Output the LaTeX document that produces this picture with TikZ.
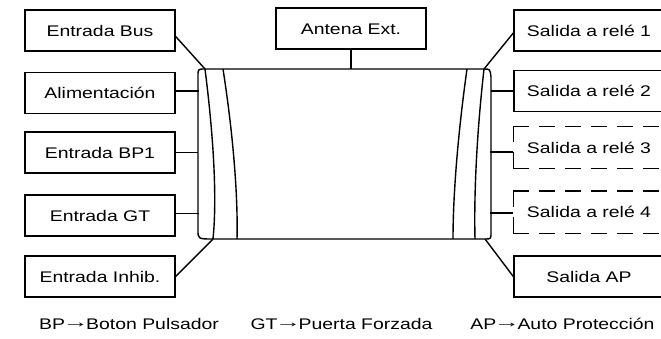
\documentclass[tikz,border=0pt]{standalone}
\usepackage{fontspec}
\setmainfont[FakeStretch=1.26]{Liberation Sans}
\newfontfamily\arrowfont[FakeStretch=1.7]{Liberation Sans}
\newcommand{\toarrow}{{\kern-2.5pt\arrowfont\raisebox{1.5pt}{→}\kern-2.5pt}}
\usepackage{tikz}
\usetikzlibrary{positioning, calc}

\begin{document}
\begin{tikzpicture}[
    x=1pt, y=-1pt,
    line width=1.4pt,
    label box/.style={draw, line width=1.4pt, minimum width=150, minimum height=41,
        font=\fontsize{15.4}{18}\selectfont, text height=11, text depth=0, inner sep=0},
    opt box/.style={label box, draw=none},
    dashline/.style={line width=1.4pt, dash pattern=on 16pt off 10pt},
    wire/.style={line width=1.4pt},
    note/.style={font=\fontsize{15.4}{18}\selectfont, anchor=base}
]
\clip (0,0) rectangle (661,338);

% Input boxes
\node[label box] (bus) at (100,30.5) {Entrada Bus};
\node[label box] (alim) at (100,93) {Alimentación};
\node[label box] (bpone) at (100,152.5) {Entrada BP1};
\node[label box] (gt) at (100,215.5) {Entrada GT};
\node[label box] (inhib) at (100,276.5) {Entrada Inhib.};

% Antenna
\node[label box] (antena) at (351,28.5) {Antena Ext.};

% Output boxes
\node[label box] (relA) at (589,30.5) {Salida a relé 1};
\node[label box] (relB) at (589,91) {Salida a relé 2};
\node[opt box] (relC) at (589,147.5) {Salida a relé 3};
\node[opt box] (relD) at (589,212) {Salida a relé 4};
\node[label box] (ap) at (589,276.5) {Salida AP};

% Optional outputs: dashed outline
\foreach \n in {relC,relD} {
    \draw[dashline] (\n.north west) -- (\n.north east);
    \draw[dashline] (\n.south west) -- (\n.south east);
    \draw[dashline] (\n.north west) -- (\n.south west);
}

% Body corners
\coordinate (tl) at (205,69);
\coordinate (tr) at (484,69);
\coordinate (bl) at (213,239);
\coordinate (br) at (485,239);
\coordinate (lside) at (198,150);
\coordinate (rside) at (491,150);

% Body outline
\draw[wire] (tl) -- (tr) .. controls (490,69) .. (491,77) -- (491,232)
    .. controls (491,239) .. (br) -- (bl) .. controls (198,239) .. (198,230)
    -- (198,76) .. controls (198,69) .. (tl);

% Rolled ends
\draw[wire] (tl) .. controls (214,140) and (217,200) .. (bl);
\draw[wire] (223,69) .. controls (234,140) and (238,200) .. (237,239);
\draw[wire] (467,69) .. controls (457,140) and (453,200) .. (453,239);
\draw[wire] (tr) .. controls (476,140) and (474,200) .. (475,239);

% Input connections
\draw[wire] (bus.east) ++(0,6) -- (tl);
\draw[wire] (alim.east) ++(0,-2) -- ++(23,0);
\draw[wire] (bpone.east) -- (bpone.east -| lside);
\draw[wire] (gt.east) ++(0,-2) -- ++(23,0);
\draw[wire] (inhib.east) -- (bl);

% Antenna connection
\draw[wire] (antena.south) -- (antena.south |- tl);

% Output connections
\draw[wire] (relA.west) ++(0,2.5) -- (tr);
\draw[wire] (relB.west) -- (relB.west -| rside);
\draw[wire] (relC.west) ++(0,4.5) -- ++(-23,0);
\draw[wire] (relD.west) ++(0,1) -- ++(-23,0);
\draw[wire] (ap.west) -- (br);

% Abbreviations
\node[note] (nbp) at (129,329) {BP\toarrow Boton Pulsador};
\node[note] (ngt) at (341.5,329) {GT\toarrow Puerta Forzada};
\node[note] (nap) at (562.5,329) {AP\toarrow Auto Protección};
\end{tikzpicture}
\end{document}
